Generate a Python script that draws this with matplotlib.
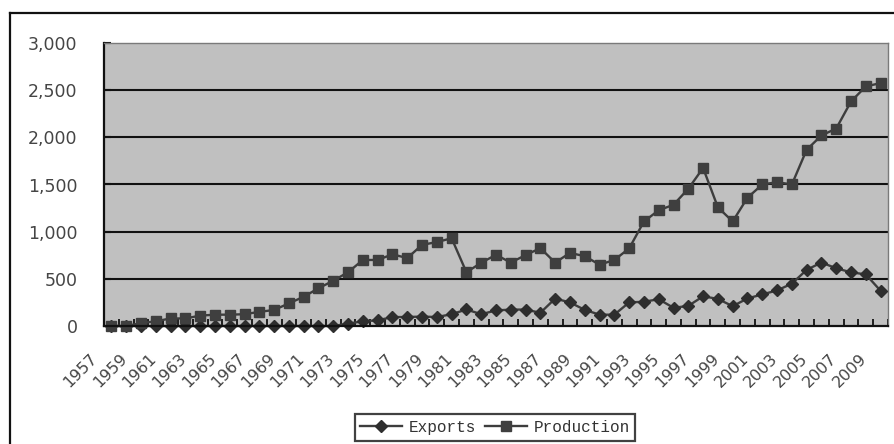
import matplotlib
matplotlib.use("Agg")
import matplotlib.pyplot as plt
import matplotlib.transforms as mtransforms
from matplotlib.lines import Line2D
import numpy as np

# Annual series, 1957-2009
years = list(range(1957, 2010))
exports = [0, 0, 0, 0, 0, 0, 0, 0, 0, 0, 0, 0, 0, 0, 0, 0,
           25, 50, 60, 95, 95, 100, 95, 125, 175, 125,
           165, 174, 174, 140, 291, 250, 171, 120, 120, 250, 257, 284, 193,
           213, 315, 287, 210, 292, 335, 377, 449, 595, 673, 612, 569, 547, 373]
production = [0, 0, 30, 50, 80, 80, 110, 120, 120, 125, 150, 170, 240,
              310, 400, 480, 570, 700, 700, 760, 720, 860, 890, 930, 570, 670,
              755, 672, 752, 825, 672, 775, 740, 650, 700, 822, 1108, 1227, 1285,
              1455, 1675, 1258, 1108, 1360, 1500, 1525, 1500, 1868, 2020, 2093,
              2380, 2540, 2575]
y_ticks = [0, 500, 1000, 1500, 2000, 2500, 3000]

W, H = 895, 444
fig = plt.figure(figsize=(W / 100, H / 100), dpi=100)

# outer chart frame (left and top edges visible)
fig.add_artist(Line2D([10 / W, 10 / W], [0, 1 - 13 / H], transform=fig.transFigure,
                      color="#111111", lw=1.6))
fig.add_artist(Line2D([10 / W, 1], [1 - 13 / H, 1 - 13 / H], transform=fig.transFigure,
                      color="#111111", lw=1.6))

left, right, top, bottom = 104, 888, 43, 326
ax = fig.add_axes([left / W, 1 - bottom / H, (right - left) / W, (bottom - top) / H])
ax.set_facecolor("#c0c0c0")

n = len(years)
x = np.arange(n)
ax.set_xlim(-0.5, n - 0.5)
ax.set_ylim(0, 3000)

# horizontal gridlines
for v in y_ticks[1:-1]:
    ax.axhline(v, color="#111111", lw=1.5, zorder=1)

line_col = "#3d3d3d"
ax.plot(x, exports, color=line_col, lw=1.7, marker="D", markersize=6,
        markerfacecolor="#2e2e2e", markeredgecolor="#2e2e2e", zorder=3,
        label="Exports", clip_on=False)
ax.plot(x, production, color=line_col, lw=1.7, marker="s", markersize=7.3,
        markerfacecolor="#3f3f3f", markeredgecolor="#3f3f3f", zorder=4,
        label="Production", clip_on=False)

# spines
for s in ["left", "bottom"]:
    ax.spines[s].set_color("#111111")
    ax.spines[s].set_linewidth(1.6)
for s in ["top", "right"]:
    ax.spines[s].set_color("#7a7a7a")
    ax.spines[s].set_linewidth(1.0)
ax.spines["bottom"].set_zorder(5)

# y axis
ax.set_yticks(y_ticks)
ax.set_yticklabels([f"{v:,}" for v in y_ticks], fontsize=12.5, color="#454545")
ax.tick_params(axis="y", direction="in", length=5, width=1.5, color="#111111", pad=19)

# x axis: tick marks between categories, labels every other year
ax.set_xticks(np.arange(-0.5, n, 1.0), minor=True)
ax.tick_params(axis="x", which="minor", direction="in", length=5, width=1.3,
               color="#111111")
ax.set_xticks(x[::2])
ax.set_xticklabels([str(y) for y in years[::2]], rotation=45, ha="right",
                   va="top", fontsize=11.5, color="#454545")
ax.tick_params(axis="x", which="major", length=0, pad=18)
shift = mtransforms.ScaledTranslation(-11 / 100, 0, fig.dpi_scale_trans)
for lbl in ax.get_xticklabels():
    lbl.set_transform(lbl.get_transform() + shift)

leg = fig.legend(loc="center", bbox_to_anchor=(495 / W, 1 - 427.5 / H), ncol=2,
                 frameon=True, fancybox=False, edgecolor="#111111",
                 prop={"family": "Liberation Mono", "size": 11.5},
                 handlelength=2.6, handletextpad=0.4, columnspacing=0.6,
                 borderpad=0.35, borderaxespad=0)
leg.get_frame().set_linewidth(1.6)
for t in leg.get_texts():
    t.set_color("#333333")

fig.savefig("out.png", dpi=100, facecolor="white")
